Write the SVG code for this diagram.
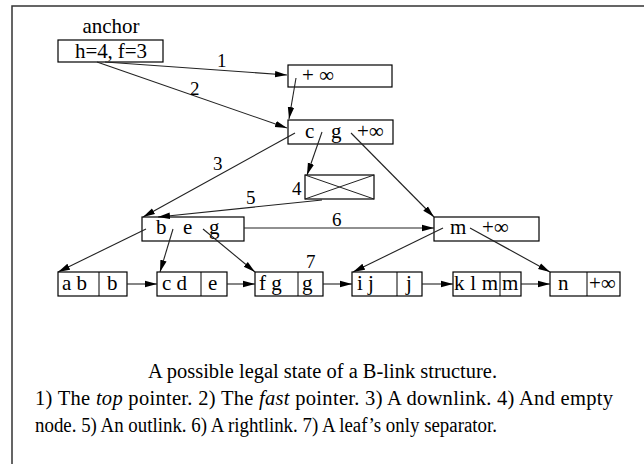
<svg xmlns="http://www.w3.org/2000/svg" width="644" height="464" viewBox="0 0 644 464">
<style>
text{font-family:"Liberation Serif","Times New Roman",serif;fill:#000}
.n{font-size:21px}
.lb{font-size:19px}
.cap{font-size:20.5px}
rect{fill:none;stroke:#000;stroke-width:1.2}
.c line,.c path{stroke:#222;stroke-width:1.1;fill:none}
.a{marker-end:url(#ah)}
</style>
<defs>
<marker id="ah" markerUnits="userSpaceOnUse" markerWidth="12" markerHeight="8" viewBox="0 0 12 8" refX="12" refY="4" orient="auto">
<path d="M0,0.8 L12,4 L0,7.2 Z" fill="#000"/>
</marker>
</defs>
<g id="frame"><path d="M644,6 L12,6 L12,464" fill="none" stroke="#333" stroke-width="1.5"/></g>
<g id="anchor"><text class="n" x="111" y="33" text-anchor="middle">anchor</text><rect x="58" y="40" width="105" height="22"/><text class="n" x="75" y="58" textLength="72">h=4, f=3</text></g>
<g id="top"><rect x="288" y="65" width="104" height="22"/><text class="n" x="302" y="82">+ ∞</text></g>
<g id="root"><rect x="288" y="120" width="105" height="24"/><text class="n" x="305" y="138">c</text><text class="n" x="331" y="138">g</text><text class="n" x="357" y="138">+∞</text></g>
<g id="empty"><rect x="305" y="175" width="69" height="24"/><line x1="305" y1="175" x2="374" y2="199" stroke="#222"/><line x1="305" y1="199" x2="374" y2="175" stroke="#222"/><text class="lb" x="292" y="195">4</text></g>
<g id="beg"><rect x="142" y="217" width="102" height="24"/><text class="n" x="156" y="234">b</text><text class="n" x="183" y="234">e</text><text class="n" x="209" y="234">g</text></g>
<g id="m"><rect x="434" y="217" width="105" height="24"/><text class="n" x="450" y="234">m</text><text class="n" x="482" y="234">+∞</text></g>
<g id="leaf1"><rect x="58" y="272" width="69" height="24"/><line x1="99" y1="272" x2="99" y2="296" stroke="#000"/><text class="n" x="62" y="290">a b</text><text class="n" x="107" y="290">b</text></g>
<g id="leaf2"><rect x="157" y="272" width="70" height="24"/><line x1="201" y1="272" x2="201" y2="296" stroke="#000"/><text class="n" x="162" y="290">c d</text><text class="n" x="208" y="290">e</text></g>
<g id="leaf3"><rect x="255" y="272" width="68" height="24"/><line x1="298" y1="272" x2="298" y2="296" stroke="#000"/><text class="n" x="259" y="290">f g</text><text class="n" x="302" y="290">g</text><text class="lb" x="306" y="268">7</text></g>
<g id="leaf4"><rect x="352" y="272" width="70" height="24"/><line x1="397" y1="272" x2="397" y2="296" stroke="#000"/><text class="n" x="357" y="290">i j</text><text class="n" x="406" y="290">j</text></g>
<g id="leaf5"><rect x="453" y="272" width="68" height="24"/><line x1="500" y1="272" x2="500" y2="296" stroke="#000"/><text class="n" x="454" y="290" textLength="44">k l m</text><text class="n" x="502" y="290">m</text></g>
<g id="leaf6"><rect x="550" y="272" width="70" height="24"/><line x1="587" y1="272" x2="587" y2="296" stroke="#000"/><text class="n" x="558" y="290">n</text><text class="n" x="589" y="290">+∞</text></g>
<g id="connectors" class="c">
<line class="a" x1="105" y1="62" x2="287" y2="75"/>
<line class="a" x1="97" y1="62" x2="287" y2="128"/>
<line class="a" x1="296" y1="78" x2="289" y2="119"/>
<line class="a" x1="295" y1="133" x2="143" y2="217"/>
<line class="a" x1="322" y1="132" x2="307" y2="175"/>
<line class="a" x1="351" y1="133" x2="434" y2="217"/>
<line class="a" x1="322" y1="200" x2="158" y2="217"/>
<line class="a" x1="244" y1="228" x2="434" y2="228"/>
<line class="a" x1="146" y1="229" x2="58" y2="272"/>
<line class="a" x1="173" y1="229" x2="160" y2="272"/>
<line class="a" x1="203" y1="229" x2="255" y2="272"/>
<line class="a" x1="443" y1="228" x2="353" y2="272"/>
<line class="a" x1="470" y1="228" x2="550" y2="272"/>
<line class="a" x1="127" y1="284" x2="157" y2="284"/>
<line class="a" x1="227" y1="284" x2="255" y2="284"/>
<line class="a" x1="323" y1="284" x2="352" y2="284"/>
<line class="a" x1="422" y1="284" x2="453" y2="284"/>
<line class="a" x1="521" y1="284" x2="550" y2="284"/>
</g>
<g id="labels">
<text class="lb" x="217" y="67">1</text>
<text class="lb" x="190" y="95">2</text>
<text class="lb" x="213" y="170">3</text>
<text class="lb" x="246" y="204">5</text>
<text class="lb" x="332" y="226">6</text>
</g>
<g id="caption">
<text class="cap" x="148" y="378" textLength="349" lengthAdjust="spacingAndGlyphs">A possible legal state of a B-link structure.</text>
<text class="cap" x="35" y="405" textLength="578">1) The <tspan font-style="italic">top</tspan> pointer. 2) The <tspan font-style="italic">fast</tspan> pointer. 3) A downlink. 4) And empty</text>
<text class="cap" x="35" y="432" textLength="462" lengthAdjust="spacingAndGlyphs">node. 5) An outlink. 6) A rightlink. 7) A leaf’s only separator.</text>
</g>
</svg>
